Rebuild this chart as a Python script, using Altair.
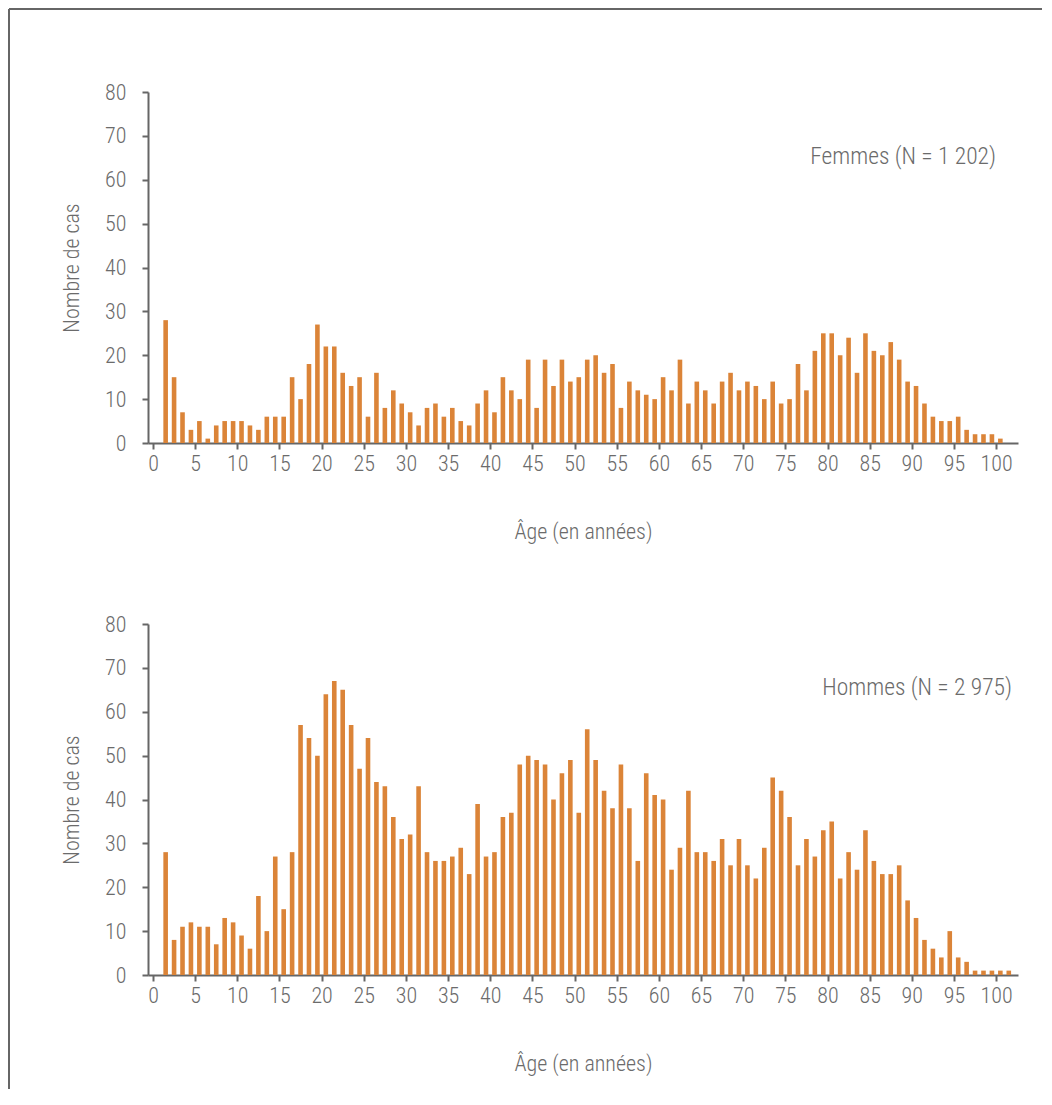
import altair as alt
import pandas as pd

ages_f = list(range(1, 101))
femmes = [28, 15, 7, 3, 5, 1, 4, 5, 5, 5,
          4, 3, 6, 6, 6, 15, 10, 18, 27, 22,
          22, 16, 13, 15, 6, 16, 8, 12, 9, 7,
          4, 8, 9, 6, 8, 5, 4, 9, 12, 7,
          15, 12, 10, 19, 8, 19, 13, 19, 14, 15,
          19, 20, 16, 18, 8, 14, 12, 11, 10, 15,
          12, 19, 9, 14, 12, 9, 14, 16, 12, 14,
          13, 10, 14, 9, 10, 18, 12, 21, 25, 25,
          20, 24, 16, 25, 21, 20, 23, 19, 14, 13,
          9, 6, 5, 5, 6, 3, 2, 2, 2, 1]

ages_h = list(range(1, 102))
hommes = [28, 8, 11, 12, 11, 11, 7, 13, 12, 9,
          6, 18, 10, 27, 15, 28, 57, 54, 50, 64,
          67, 65, 57, 47, 54, 44, 43, 36, 31, 32,
          43, 28, 26, 26, 27, 29, 23, 39, 27, 28,
          36, 37, 48, 50, 49, 48, 40, 46, 49, 37,
          56, 49, 42, 38, 48, 38, 26, 46, 41, 40,
          24, 29, 42, 28, 28, 26, 31, 25, 31, 25,
          22, 29, 45, 42, 36, 25, 31, 27, 33, 35,
          22, 28, 24, 33, 26, 23, 23, 25, 17, 13,
          8, 6, 4, 10, 4, 3, 1, 1, 1, 1, 1]

label_f = "Femmes (N = 1 202)"
label_h = "Hommes (N = 2 975)"
x_title = "Âge (en années)"
y_title = "Nombre de cas"
x_ticks = list(range(0, 101, 5))
y_ticks = list(range(0, 81, 10))

FONT = "Roboto Condensed"
BAR = "#DB8438"
GREY = "#666666"
TXT = "#6b6b6b"
W, H = 870, 351


def panel(ages, counts, label, lx, ly, frame=False):
    df = pd.DataFrame({"age": ages, "n": counts})
    bars = alt.Chart(df).transform_calculate(
        mid="datum.age + 0.5"
    ).mark_bar(size=4.6, color=BAR).encode(
        x=alt.X("mid:Q", scale=alt.Scale(domain=[0, 102], nice=False, zero=False),
                axis=alt.Axis(values=x_ticks, title=x_title, format="d",
                              labelPadding=4, titlePadding=47)),
        y=alt.Y("n:Q", scale=alt.Scale(domain=[0, 80], nice=False),
                axis=alt.Axis(values=y_ticks, title=y_title, labelPadding=16,
                              titlePadding=21)),
    )
    txt = alt.Chart(pd.DataFrame({"t": [label]})).mark_text(
        align="right", baseline="middle", font=FONT, fontSize=23.5, color=TXT,
        fontWeight=300
    ).encode(text="t:N", x=alt.value(lx), y=alt.value(ly))
    layers = [bars, txt]
    if frame:
        fr = pd.DataFrame({"k": [1]})
        top = alt.Chart(fr).mark_rule(color=GREY, strokeWidth=2).encode(
            x=alt.value(-139), x2=alt.value(894), y=alt.value(-83))
        left = alt.Chart(fr).mark_rule(color=GREY, strokeWidth=2).encode(
            x=alt.value(-139), y=alt.value(-83), y2=alt.value(997))
        layers += [top, left]
    return alt.layer(*layers).properties(width=W, height=H)


chart = alt.vconcat(
    panel(ages_f, femmes, label_f, 848, 65, frame=True),
    panel(ages_h, hommes, label_h, 864, 64),
    spacing=181, bounds="flush",
).properties(padding=0).configure_view(stroke=None).configure_axis(
    domainColor=GREY, domainWidth=2, tickColor=GREY, tickWidth=2, tickSize=6,
    grid=False, labelFont=FONT, labelFontSize=22, labelColor=TXT, labelFontWeight=300,
    titleFont=FONT, titleFontSize=22, titleColor=TXT, titleFontWeight=300,
)

chart.save("out.html", embed_options={"renderer": "svg", "actions": False})
